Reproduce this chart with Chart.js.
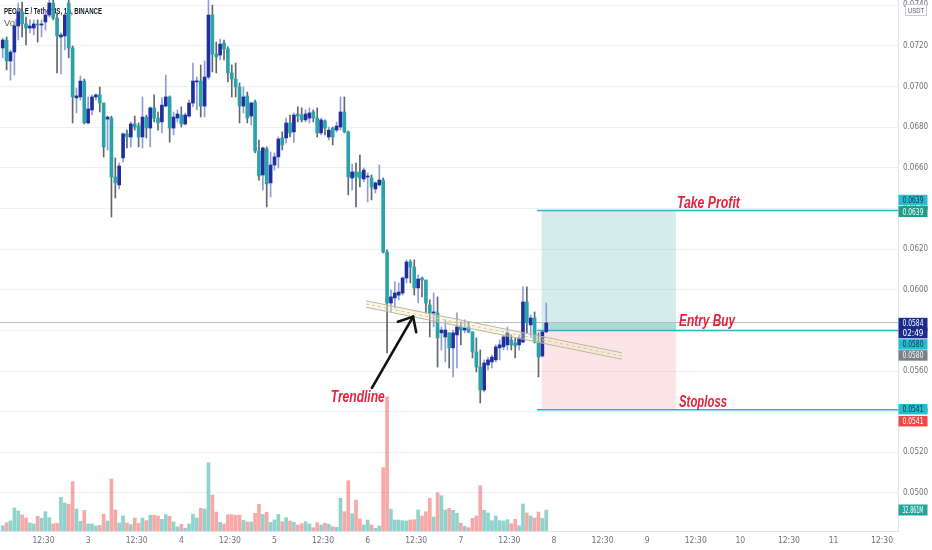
<!DOCTYPE html>
<html><head><meta charset="utf-8">
<script src="https://cdn.jsdelivr.net/npm/chart.js@4.4.1/dist/chart.umd.min.js"></script>
<style>html,body{margin:0;padding:0;background:#fff;overflow:hidden}#wrap{width:932px;height:550px}</style>
</head><body><div id="wrap"><canvas id="c" width="932" height="550"></canvas></div>
<script>
// ---- data (PEOPLE/USDT 1h, Binance) ----
const opens=[0.07190,0.07229,0.07126,0.07170,0.07298,0.07367,0.07308,0.07288,0.07288,0.07308,
0.07303,0.07318,0.07352,0.07411,0.07337,0.07244,0.07249,0.07411,0.07190,0.06944,
0.06949,0.07027,0.06821,0.06885,0.06949,0.06959,0.06919,0.06840,0.06845,0.06555,
0.06516,0.06649,0.06767,0.06752,0.06816,0.06806,0.06752,0.06850,0.06796,0.06895,
0.06845,0.06826,0.06904,0.06949,0.06796,0.06845,0.06860,0.06816,0.06855,0.06919,
0.07023,0.07027,0.06904,0.07047,0.07352,0.07160,0.07155,0.07214,0.07185,0.07067,
0.07037,0.06998,0.06904,0.06954,0.06855,0.06924,0.06683,0.06565,0.06693,0.06526,
0.06614,0.06654,0.06747,0.06747,0.06821,0.06777,0.06865,0.06860,0.06836,0.06845,
0.06875,0.06845,0.06772,0.06831,0.06752,0.06796,0.06786,0.06801,0.06875,0.06777,
0.06550,0.06580,0.06580,0.06545,0.06555,0.06550,0.06496,0.06516,0.06540,0.06186,
0.05935,0.05960,0.05974,0.05984,0.06058,0.06137,0.06112,0.06009,0.06058,0.06048,
0.05925,0.05886,0.05886,0.05788,0.05768,0.05788,0.05714,0.05778,0.05817,0.05802,
0.05817,0.05793,0.05694,0.05620,0.05507,0.05630,0.05645,0.05655,0.05714,0.05719,
0.05729,0.05753,0.05738,0.05729,0.05743,0.05940,0.05827,0.05861,0.05743,0.05674,
0.05793];
const highs=[0.07239,0.07244,0.07180,0.07308,0.07411,0.07416,0.07342,0.07328,0.07328,0.07328,
0.07328,0.07377,0.07426,0.07426,0.07362,0.07264,0.07362,0.07436,0.07200,0.06993,
0.07052,0.07037,0.06949,0.06959,0.06964,0.06998,0.06919,0.06855,0.06855,0.06649,
0.06624,0.06772,0.06786,0.06826,0.06855,0.06821,0.06949,0.06860,0.06900,0.06959,
0.06875,0.06944,0.07057,0.06954,0.06875,0.06885,0.06900,0.06870,0.06934,0.07116,
0.07047,0.07106,0.07126,0.07451,0.07401,0.07219,0.07234,0.07229,0.07195,0.07106,
0.07116,0.07018,0.06998,0.06973,0.06924,0.06934,0.06737,0.06703,0.06703,0.06678,
0.06673,0.06752,0.06777,0.06845,0.06860,0.06870,0.06900,0.06895,0.06885,0.06895,
0.06885,0.06895,0.06845,0.06836,0.06801,0.06801,0.06826,0.06949,0.06949,0.06781,
0.06619,0.06624,0.06663,0.06599,0.06575,0.06565,0.06531,0.06614,0.06550,0.06196,
0.05999,0.06039,0.06034,0.06063,0.06147,0.06147,0.06147,0.06073,0.06063,0.06048,
0.05950,0.05984,0.05965,0.05817,0.05852,0.05788,0.05802,0.05886,0.05842,0.05852,
0.05842,0.05793,0.05763,0.05704,0.05655,0.05669,0.05679,0.05729,0.05753,0.05778,
0.05817,0.05778,0.05763,0.05778,0.06014,0.06014,0.05876,0.05891,0.05788,0.05793,
0.05935];
const lows=[0.07141,0.07082,0.07032,0.07057,0.07229,0.07244,0.07205,0.07264,0.07254,0.07219,
0.07244,0.07278,0.07342,0.07328,0.07067,0.07062,0.07180,0.07141,0.06821,0.06870,
0.06934,0.06816,0.06816,0.06860,0.06934,0.06875,0.06654,0.06688,0.06358,0.06452,
0.06496,0.06629,0.06698,0.06703,0.06786,0.06703,0.06698,0.06747,0.06703,0.06826,
0.06786,0.06772,0.06900,0.06727,0.06762,0.06826,0.06801,0.06811,0.06850,0.06900,
0.06885,0.06850,0.06850,0.07037,0.07072,0.07067,0.07131,0.07131,0.07023,0.06949,
0.06949,0.06821,0.06870,0.06821,0.06811,0.06673,0.06540,0.06491,0.06408,0.06457,
0.06589,0.06599,0.06688,0.06722,0.06752,0.06727,0.06826,0.06826,0.06826,0.06821,
0.06826,0.06752,0.06762,0.06762,0.06737,0.06713,0.06777,0.06786,0.06772,0.06467,
0.06491,0.06408,0.06506,0.06531,0.06432,0.06442,0.06476,0.06511,0.06181,0.05689,
0.05891,0.05911,0.05950,0.05974,0.06034,0.06034,0.05974,0.05935,0.05965,0.05886,
0.05768,0.05817,0.05620,0.05704,0.05645,0.05615,0.05571,0.05615,0.05729,0.05788,
0.05788,0.05665,0.05596,0.05443,0.05497,0.05606,0.05615,0.05645,0.05655,0.05704,
0.05704,0.05704,0.05665,0.05704,0.05738,0.05788,0.05768,0.05738,0.05571,0.05669,
0.05788];
const closes=[0.07229,0.07126,0.07170,0.07298,0.07367,0.07308,0.07288,0.07298,0.07308,0.07303,
0.07308,0.07352,0.07411,0.07337,0.07249,0.07254,0.07352,0.07190,0.06949,0.06954,
0.07027,0.06821,0.06890,0.06949,0.06959,0.06919,0.06703,0.06850,0.06555,0.06526,
0.06609,0.06767,0.06752,0.06816,0.06801,0.06752,0.06850,0.06796,0.06895,0.06845,
0.06821,0.06909,0.06949,0.06796,0.06850,0.06865,0.06816,0.06860,0.06919,0.07027,
0.07027,0.06904,0.07047,0.07352,0.07160,0.07146,0.07209,0.07185,0.07067,0.07037,
0.06998,0.06904,0.06949,0.06845,0.06919,0.06683,0.06560,0.06698,0.06521,0.06614,
0.06654,0.06742,0.06713,0.06821,0.06772,0.06860,0.06855,0.06836,0.06865,0.06870,
0.06845,0.06772,0.06836,0.06796,0.06786,0.06752,0.06806,0.06875,0.06777,0.06555,
0.06580,0.06555,0.06550,0.06589,0.06560,0.06506,0.06526,0.06540,0.06186,0.05935,
0.05965,0.05984,0.05989,0.06058,0.06137,0.06112,0.06009,0.06053,0.06048,0.05935,
0.05886,0.05891,0.05763,0.05802,0.05802,0.05714,0.05788,0.05817,0.05802,0.05812,
0.05793,0.05694,0.05620,0.05507,0.05640,0.05655,0.05669,0.05719,0.05729,0.05768,
0.05788,0.05729,0.05724,0.05763,0.05940,0.05837,0.05861,0.05743,0.05669,0.05793,
0.05837];
const volumes=[8.3,13.0,15.7,36.0,31.3,25.0,20.3,12.5,11.0,23.0,
19.9,30.2,20.8,11.0,12.1,52.7,43.8,41.8,77.2,34.4,
15.2,32.4,11.0,11.0,7.8,8.9,26.1,15.7,81.4,32.9,
12.5,23.5,12.5,9.9,20.3,12.1,20.3,16.1,24.6,24.6,
23.5,18.3,25.5,23.0,14.1,6.7,10.5,4.2,11.0,26.1,
20.3,35.5,34.4,106.9,56.3,29.7,13.6,11.0,25.5,25.5,
24.6,24.6,16.7,14.1,14.1,27.7,41.8,26.1,29.3,13.6,
17.2,26.1,14.6,20.8,15.7,13.6,9.4,11.4,14.6,11.0,
5.2,13.0,9.4,12.1,10.5,6.7,5.8,51.2,30.2,78.7,
27.1,48.5,18.8,9.4,17.2,9.4,4.2,7.8,99.1,210.0,
34.4,17.2,17.2,16.1,15.7,17.2,17.7,32.9,23.5,30.2,
51.2,21.9,59.9,55.2,32.9,35.5,32.4,27.7,12.1,7.4,
5.2,19.9,23.5,70.9,32.4,28.2,16.1,23.5,16.1,15.7,
17.7,11.4,18.3,8.3,42.3,28.2,23.5,20.3,29.7,19.9,
32.861];
const priceTicks=[0.0500,0.0520,0.0540,0.0560,0.0580,0.0600,0.0620,0.0640,0.0660,0.0680,0.0700,0.0720,0.0740];
const timeTickPositions=[10.5,22,34.5,46,58.5,70,82.5,94,106.5,118,130.5,142,154.5,166,178.5,190,202.5,214,226.5];
const timeTickLabels=['12:30','3','12:30','4','12:30','5','12:30','6','12:30','7','12:30','8','12:30','9','12:30','10','12:30','11','12:30'];
const symbolTitle='PEOPLE / TetherUS, 1h, BINANCE';
const lastPrice=0.0584, lastCountdown='02:49';
const takeProfit=0.0639, entryPrice=0.0580, stopLoss=0.0541;
const positionStart=138.8, positionEnd=173.4, levelLineStart=137.6;
const trendStart={x:93.6,y:0.05930}, trendEnd={x:159.5,y:0.05674}, trendHalfWidth=0.00016;
const arrowFrom={x:95.1,y:0.05517}, arrowTo={x:105.7,y:0.05868};
const textNotes=[
 {text:'Take Profit',x:173.65,y:0.06403,w:63},
 {text:'Entry Buy',x:174.2,y:0.05822,w:56},
 {text:'Stoploss',x:174.2,y:0.05423,w:48},
 {text:'Trendline',x:84.5,y:0.05448,w:54}
];

// ---- styles ----
const UP='#1f2f9e', DOWN='#2aa2a9', UPW='#8f9bd8', DOWNW='#5d686b';
const VUP='rgba(38,166,154,0.5)', VDN='rgba(239,83,80,0.5)';
const LEVEL='#2db4c4', NOTE='#e4223d';
const AXISFONT='"Liberation Sans Narrow","DejaVu Sans Condensed","Liberation Sans"';

const idx=closes.map((_,i)=>i);
const up=idx.map(i=>closes[i]>=opens[i]);

function fitText(ctx,text,x,y,w,font,color){
  ctx.save();ctx.font=font;const m=ctx.measureText(text).width;
  ctx.translate(x,y);ctx.scale(w/m,1);ctx.fillStyle=color;ctx.textBaseline='alphabetic';ctx.textAlign='left';
  ctx.fillText(text,0,0);ctx.restore();
}

const overlay={
 id:'overlay',
 beforeDatasetsDraw(chart){
  const {ctx,chartArea:a,scales:{x,y}}=chart;
  ctx.save();
  fitText(ctx,symbolTitle,4,14,98,'600 9px "Liberation Sans"','#131722');
  fitText(ctx,'Vol',4,26,13,'9px "Liberation Sans"','#50535e');
  const x0=x.getPixelForValue(positionStart), x1=x.getPixelForValue(positionEnd);
  const yTP=y.getPixelForValue(takeProfit), yEn=y.getPixelForValue(entryPrice), ySL=y.getPixelForValue(stopLoss), yLast=y.getPixelForValue(lastPrice);
  ctx.fillStyle='rgba(38,166,154,0.2)';ctx.fillRect(x0,yTP,x1-x0,yEn-yTP);
  ctx.fillStyle='rgba(38,166,154,0.25)';ctx.fillRect(x0,yLast,x1-x0,yEn-yLast);
  ctx.fillStyle='rgba(242,54,69,0.13)';ctx.fillRect(x0,yEn,x1-x0,ySL-yEn);
  ctx.strokeStyle='#b8bcc8';ctx.lineWidth=1;ctx.beginPath();ctx.moveTo(a.left,Math.round(yLast)+0.5);ctx.lineTo(a.right,Math.round(yLast)+0.5);ctx.stroke();
  const xl=x.getPixelForValue(levelLineStart);
  ctx.strokeStyle=LEVEL;ctx.lineWidth=1.5;
  [yTP,yEn,ySL].forEach(yy=>{ctx.beginPath();ctx.moveTo(xl,yy);ctx.lineTo(a.right,yy);ctx.stroke();});
  ctx.restore();
 },
 afterDatasetsDraw(chart){
  const {ctx,scales:{x,y}}=chart;
  ctx.save();
  const ax=x.getPixelForValue(arrowFrom.x), ay=y.getPixelForValue(arrowFrom.y);
  const bx=x.getPixelForValue(arrowTo.x), by=y.getPixelForValue(arrowTo.y);
  ctx.strokeStyle='#111';ctx.lineWidth=2.6;ctx.lineCap='round';
  ctx.beginPath();ctx.moveTo(ax,ay);ctx.lineTo(bx,by);ctx.stroke();
  const ang=Math.atan2(ay-by,ax-bx), L=16, sp=0.72;
  ctx.beginPath();
  ctx.moveTo(bx+L*Math.cos(ang+sp),by+L*Math.sin(ang+sp));ctx.lineTo(bx,by);
  ctx.lineTo(bx+L*Math.cos(ang-sp),by+L*Math.sin(ang-sp));ctx.stroke();
  textNotes.forEach(t=>fitText(ctx,t.text,x.getPixelForValue(t.x),y.getPixelForValue(t.y),t.w,'italic bold 16px "Liberation Sans"',NOTE));
  ctx.restore();
 },
 afterDraw(chart){
  const {ctx,chartArea:a,scales:{y,yVol}}=chart;
  ctx.save();
  const bx=a.right+0.5, bw=29;
  function tag(yc,h,bg,fg,lines){
    const top=yc-h/2;ctx.fillStyle=bg;ctx.fillRect(bx,top,bw,h);
    const lh=h/lines.length;
    lines.forEach((s,k)=>{ctx.font='8.5px '+AXISFONT;const m=ctx.measureText(s).width;const w=Math.min(m,21);
      ctx.save();ctx.translate(bx+4,top+lh*k+lh/2+3);ctx.scale(w/m,1);ctx.fillStyle=fg;ctx.fillText(s,0,0);ctx.restore();});
  }
  const yTP=y.getPixelForValue(takeProfit), yEn=y.getPixelForValue(entryPrice), ySL=y.getPixelForValue(stopLoss), yLast=y.getPixelForValue(lastPrice);
  tag(yTP-10.5,10.5,'#22bfd1','#0c3440',[takeProfit.toFixed(4)]);
  tag(yTP+1,11,'#1f9d8b','#fff',[takeProfit.toFixed(4)]);
  tag(yLast+5.8,20.5,'#1b2c8c','#fff',[lastPrice.toFixed(4),lastCountdown]);
  tag(yEn+14,10.5,'#22bfd1','#0c3440',[entryPrice.toFixed(4)]);
  tag(yEn+25,10.5,'#7d7f86','#fff',[entryPrice.toFixed(4)]);
  tag(ySL-0.5,10.5,'#22bfd1','#0c3440',[stopLoss.toFixed(4)]);
  tag(ySL+11.5,10.5,'#f04848','#fff',[stopLoss.toFixed(4)]);
  const yv=yVol.getPixelForValue(volumes[volumes.length-1]);
  tag(yv,11,'#26a69a','#fff',[volumes[volumes.length-1].toFixed(3)+'M']);
  ctx.fillStyle='#fff';ctx.fillRect(905,4,22,12);ctx.strokeStyle='#c9ccd3';ctx.lineWidth=1;ctx.strokeRect(905.5,4.5,21,11);
  fitText(ctx,'USDT',908,13,16,'7px "Liberation Sans"','#50535e');
  ctx.restore();
 }
};

const chLine=(off,extra)=>Object.assign({type:'line',yAxisID:'y',order:0,pointRadius:0,borderWidth:1,borderColor:'#b9b7a0',
  data:[{x:trendStart.x,y:trendStart.y+off},{x:trendEnd.x,y:trendEnd.y+off}]},extra||{});

new Chart(document.getElementById('c'),{
 type:'bar',
 data:{datasets:[
  chLine(trendHalfWidth),
  chLine(-trendHalfWidth,{fill:'-1',backgroundColor:'rgba(238,232,190,0.35)'}),
  chLine(0,{borderColor:'#c4b87a',borderDash:[3,3]}),
  {type:'bar',label:'body',order:1,yAxisID:'y',grouped:false,barThickness:3,minBarLength:1,
   data:idx.map(i=>({x:i,y:[opens[i],closes[i]]})),backgroundColor:idx.map(i=>up[i]?UP:DOWN)},
  {type:'bar',label:'wick',order:2,yAxisID:'y',grouped:false,barThickness:1,
   data:idx.map(i=>({x:i,y:[lows[i],highs[i]]})),backgroundColor:idx.map(i=>up[i]?UPW:DOWNW)},
  {type:'bar',label:'Vol',order:3,yAxisID:'yVol',grouped:false,barThickness:3,
   data:idx.map(i=>({x:i,y:volumes[i]})),backgroundColor:idx.map(i=>up[i]?VUP:VDN)}
 ]},
 options:{
  responsive:false,animation:false,events:[],
  layout:{padding:0},
  plugins:{legend:{display:false},tooltip:{enabled:false}},
  scales:{
   x:{type:'linear',min:-0.7,max:230.6,offset:false,
      grid:{display:false,drawTicks:false},border:{display:true,color:'#e0e3eb'},
      ticks:{autoSkip:false,maxRotation:0,padding:5,color:'#6f727c',font:{size:8.5,family:AXISFONT},callback:(v,i)=>timeTickLabels[i]},
      afterBuildTicks:s=>{s.ticks=timeTickPositions.map(v=>({value:v}));},
      afterFit:s=>{s.height=19;s.paddingLeft=0;s.paddingRight=0;}},
   y:{type:'linear',position:'right',min:0.04813,max:0.07426,
      grid:{color:'#eef0f3',drawTicks:false},border:{display:true,color:'#e0e3eb'},
      ticks:{padding:5,color:'#6f727c',font:{size:8,family:AXISFONT},callback:v=>v.toFixed(4)},
      afterBuildTicks:s=>{s.ticks=priceTicks.map(v=>({value:v}));},
      afterFit:s=>{s.width=34;s.paddingTop=0;s.paddingBottom=0;}},
   yVol:{type:'linear',display:false,min:0,max:831}
  }
 },
 plugins:[overlay]
});
</script></body></html>
